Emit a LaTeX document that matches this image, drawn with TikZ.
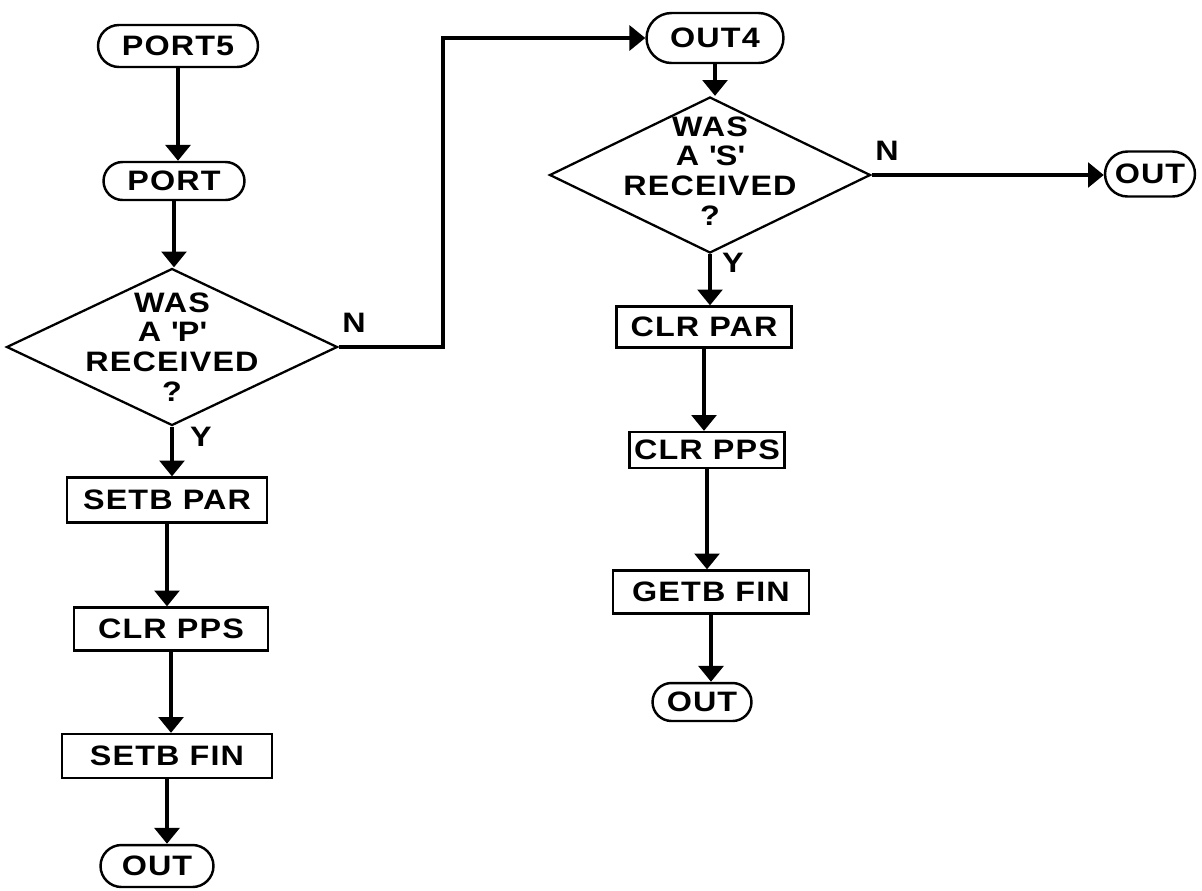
\documentclass[tikz,border=0pt]{standalone}
\usepackage{fontspec}
\newfontfamily\chartfont{Liberation Sans}[FakeStretch=1.15,LetterSpace=4]
\usetikzlibrary{arrows.meta,shapes.geometric,shapes.misc,calc}

\begin{document}
\begin{tikzpicture}[
    x=0.02cm, y=-0.02cm,
    term/.style={draw, line width=1.4pt, rounded rectangle, inner sep=2pt, minimum height=0.84cm},
    block/.style={draw, line width=1.3pt, minimum height=0.86cm, inner sep=2pt},
    decision/.style={draw, line width=1.3pt, diamond, inner sep=0pt},
    flow/.style={line width=2.2pt, -{Triangle[length=9pt, width=14pt]}},
    every node/.style={font=\chartfont\bfseries\fontsize{16}{17}\selectfont}
]
    \useasboundingbox (0,0) rectangle (1202,890);

    % Left column
    \node[term, minimum width=3.34cm] (port5) at (178,46) {PORT5};
    \node[term, minimum width=2.96cm, minimum height=0.76cm] (port) at (174,181) {PORT};
    \node[decision, minimum width=6.62cm, minimum height=3.14cm] (d1) at (172,347) {};
    \node[align=center] (d1txt) at (172,347) {WAS\\A \textquotesingle P\textquotesingle\\RECEIVED\\?};
    \node[block, minimum width=4cm, minimum height=0.9cm] (setbpar) at (167,500) {SETB PAR};
    \node[block, minimum width=3.88cm] (clrpps) at (171,629) {CLR PPS};
    \node[block, minimum width=4.2cm, minimum height=0.88cm] (setbfin) at (167,756) {SETB FIN};
    \node[term, minimum width=2.4cm] (outa) at (157,866) {OUT};

    \node (n1) at (354,323) {N};
    \node (y1) at (201,437) {Y};

    % Right column
    \node[term, minimum width=2.88cm, minimum height=1cm] (out4) at (715,38) {OUT4};
    \node[decision, minimum width=6.42cm, minimum height=3.12cm] (d2) at (710,175) {};
    \node[align=center] (d2txt) at (710,171) {WAS\\A \textquotesingle S\textquotesingle\\RECEIVED\\?};
    \node[block, minimum width=3.5cm, minimum height=0.82cm] (clrpar) at (704,327) {CLR PAR};
    \node[block, minimum width=3.1cm, minimum height=0.72cm] (clrpps2) at (707,450) {CLR PPS};
    \node[block, minimum width=3.92cm] (getbfin) at (711,592) {GETB FIN};
    \node[term, minimum width=2.12cm, minimum height=0.76cm] (outb) at (702,702) {OUT};
    \node[term, minimum width=1.94cm, minimum height=0.9cm] (outc) at (1150,174) {OUT};

    \node (n2) at (887,151) {N};
    \node (y2) at (733,263) {Y};

    % Flow lines
    \foreach \a/\b in {port5/port, port/d1, d1/setbpar, setbpar/clrpps, clrpps/setbfin, setbfin/outa,
                       out4/d2, d2/clrpar, clrpar/clrpps2, clrpps2/getbfin, getbfin/outb}
        \draw[flow] (\a.south) -- (\a.south |- \b.north);

    \draw[flow] (d1.east) -- ++(104,0) |- (out4.west);
    \draw[flow] (d2.east) -- (d2.east -| outc.west);
\end{tikzpicture}
\end{document}
